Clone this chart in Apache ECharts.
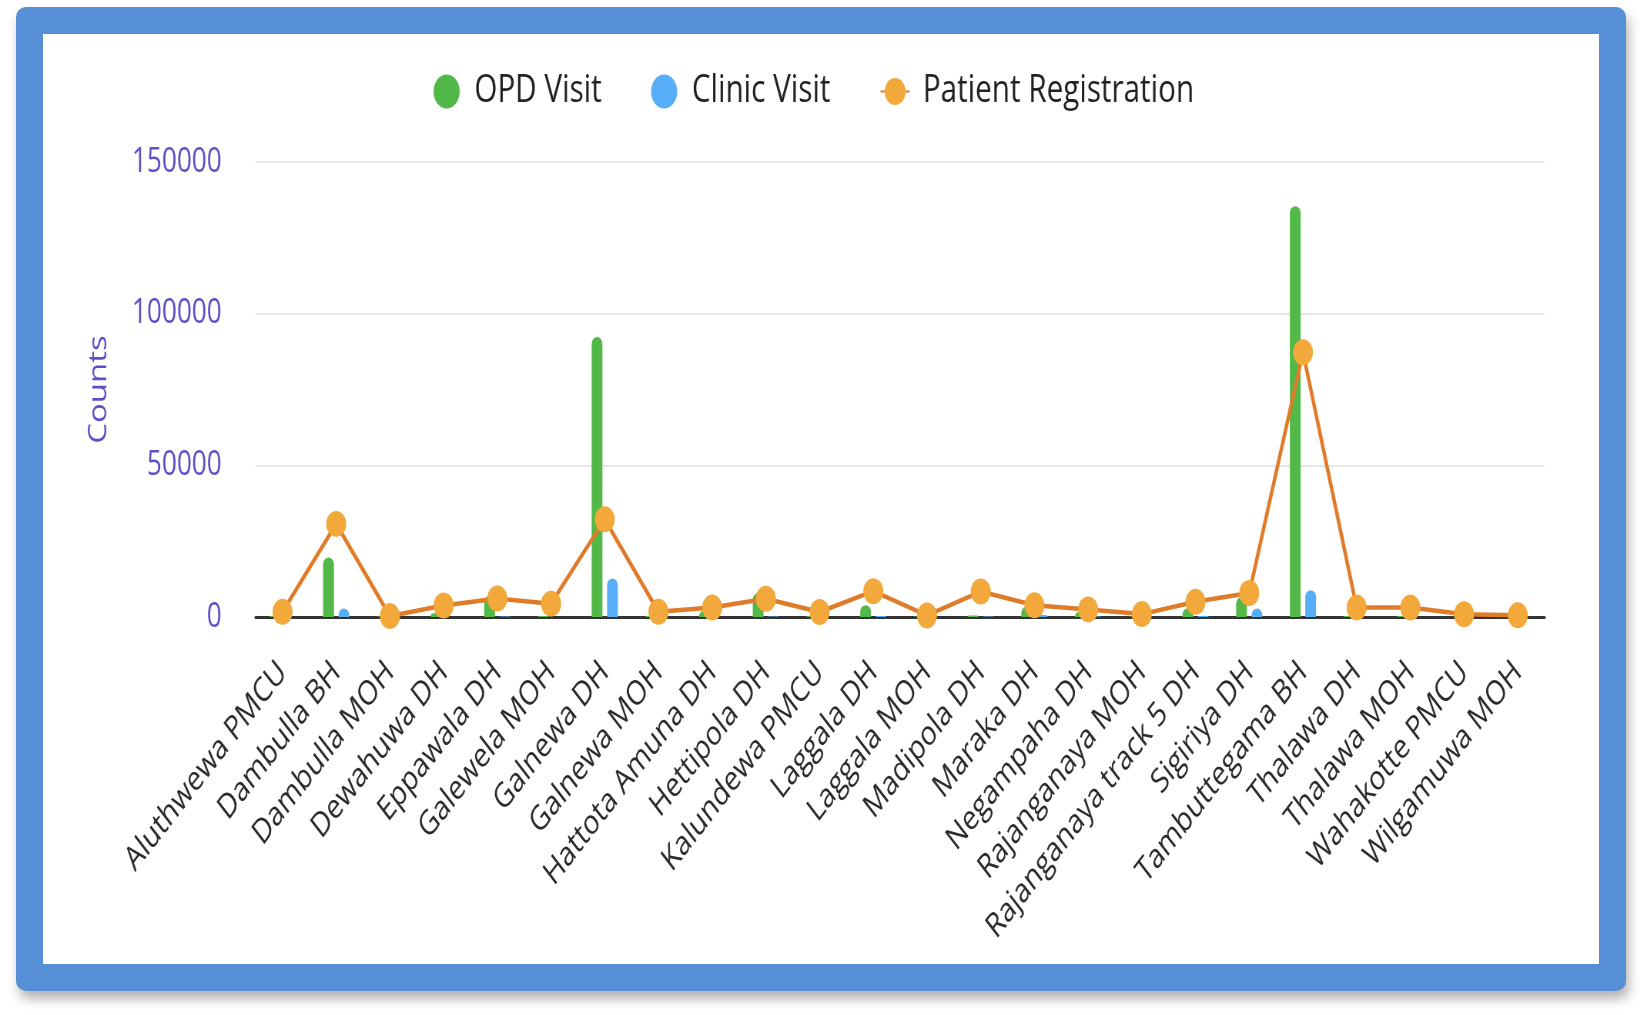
<!DOCTYPE html>
<html>
<head>
<meta charset="utf-8">
<title>Counts by institution</title>
<script src="https://cdn.jsdelivr.net/npm/echarts@6/dist/echarts.min.js"></script>
<style>
	html,body{margin:0;padding:0;background:#fff;overflow:hidden;}
	#frame{
		position:absolute;left:16px;top:7px;width:1610px;height:984px;
		box-sizing:border-box;border:27px solid #568fd5;border-radius:10px;
		background:#fff;box-shadow:3px 8px 12px rgba(0,0,0,0.3);
	}
	/* the original screenshot is squeezed sideways, so draw wide and squeeze */
	#main{
		position:absolute;left:0;top:0;width:2132px;height:1015px;
		transform:scaleX(0.77);transform-origin:0 0;
	}
</style>
</head>
<body>
<div id="frame"></div>
<div id="main"></div>
<script>
var categories = ['Aluthwewa PMCU','Dambulla BH','Dambulla MOH','Dewahuwa DH','Eppawala DH','Galewela MOH',
	'Galnewa DH','Galnewa MOH','Hattota Amuna DH','Hettipola DH','Kalundewa PMCU','Laggala DH',
	'Laggala MOH','Madipola DH','Maraka DH','Negampaha DH','Rajanganaya MOH','Rajanganaya track 5 DH',
	'Sigiriya DH','Tambuttegama BH','Thalawa DH','Thalawa MOH','Wahakotte PMCU','Wilgamuwa MOH'];
var opdVisit = [300,19600,200,1200,7100,300,92300,300,2100,7900,300,3850,200,500,3500,1800,200,2900,6600,135400,300,300,100,100];
var clinicVisit = [0,2800,0,0,200,0,12700,0,0,200,0,300,0,200,700,200,0,300,2800,8800,0,0,0,0];
var patientReg = [1700,30700,300,3800,6100,4400,32200,1700,3100,6000,1650,8500,500,8400,3850,2500,950,5000,7900,87300,3100,3100,900,550];
var yTicks = {min:0, max:150000, interval:50000};

var fontName = 'Open Sans';
var purple = '#5b50c8';

var chart = echarts.init(document.getElementById('main'), null, {renderer:'canvas'});
var option = {
	animation:false,
	textStyle:{fontFamily:fontName},
	legend:{
		left:558,
		top:67,
		itemWidth:38,
		itemHeight:34,
		itemGap:64,
		textStyle:{fontSize:38.5,color:'#222',fontFamily:fontName,padding:[0,0,0,12]},
		data:[
			{name:'OPD Visit',icon:'circle'},
			{name:'Clinic Visit',icon:'circle'},
			{name:'Patient Registration'}
		]
	},
	grid:{left:332,right:126,top:162,bottom:398},
	xAxis:{
		type:'category',
		data:categories,
		axisTick:{show:false},
		axisLine:{lineStyle:{color:'#333',width:3}},
		axisLabel:{
			rotate:45,
			interval:0,
			margin:50,
			fontSize:34,
			color:'#2b2b2b',
			fontFamily:fontName
		}
	},
	yAxis:{
		type:'value',
		min:yTicks.min,
		max:yTicks.max,
		interval:yTicks.interval,
		name:'Counts',
		nameLocation:'middle',
		nameGap:187,
		nameTextStyle:{fontSize:33,color:purple,fontFamily:fontName},
		axisLine:{show:false},
		axisTick:{show:false},
		axisLabel:{
			fontSize:34,
			color:purple,
			margin:44,
			fontFamily:fontName,
			formatter:function(v){
				return String(v);//no thousands separator
			}
		},
		splitLine:{lineStyle:{color:'#e6e6e6',width:2}}
	},
	series:[{
		name:'OPD Visit',
		type:'bar',
		barWidth:14,
		barGap:'43%',
		itemStyle:{color:'#52b848',borderRadius:[7,7,0,0]},
		data:opdVisit
	},{
		name:'Clinic Visit',
		type:'bar',
		barWidth:14,
		itemStyle:{color:'#58aef6',borderRadius:[7,7,0,0]},
		data:clinicVisit
	},{
		name:'Patient Registration',
		type:'line',
		symbol:'circle',
		symbolSize:26,
		z:5,
		lineStyle:{color:'#e07b29',width:4.5},
		itemStyle:{color:'#f2a83a',borderWidth:0},
		data:patientReg
	}]
};
chart.setOption(option);
</script>
</body>
</html>
